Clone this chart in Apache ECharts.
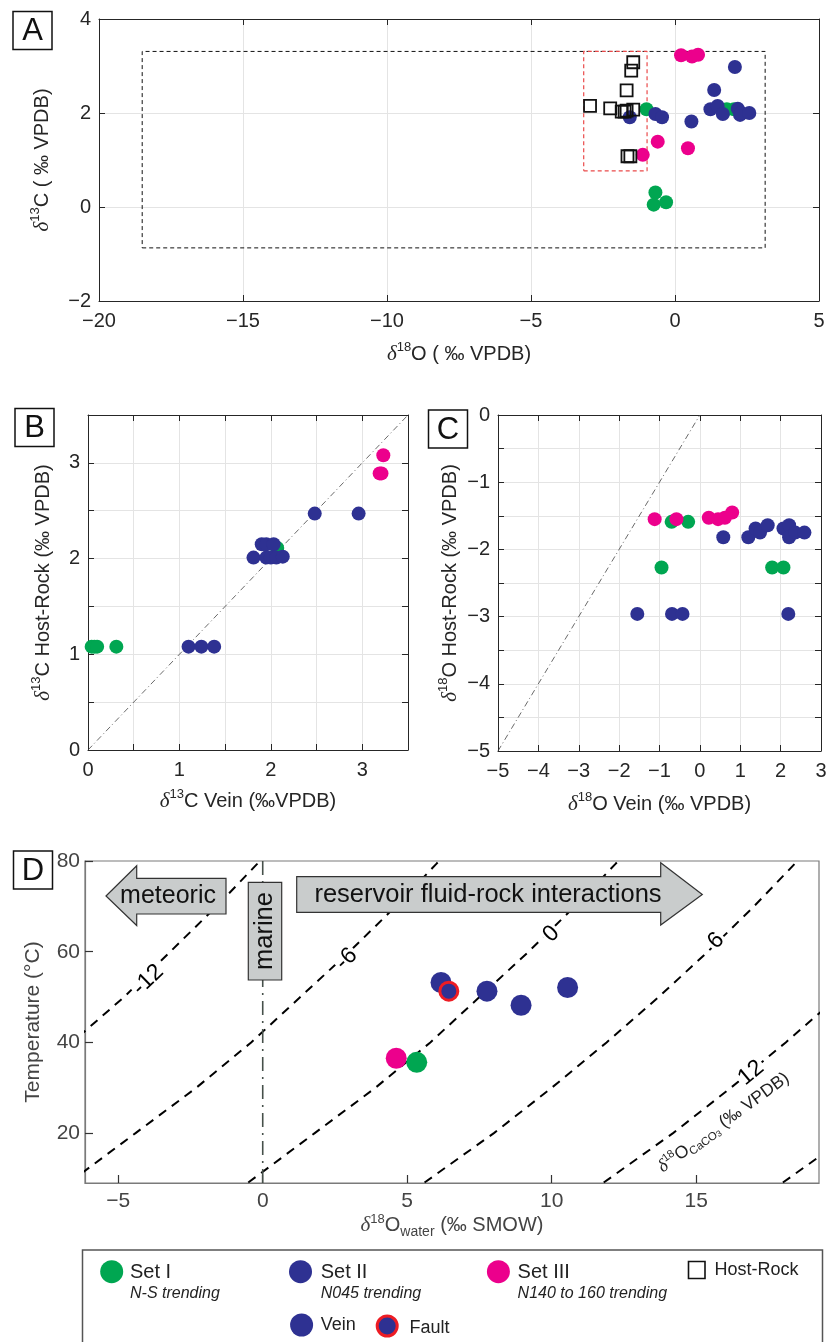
<!DOCTYPE html>
<html><head><meta charset="utf-8">
<script src="https://cdn.jsdelivr.net/npm/echarts@6.0.0/dist/echarts.min.js"></script>
<style>html,body{margin:0;padding:0;background:#fff}#c{width:830px;height:1342px}</style>
</head><body><div id="c"></div>
<script>
// ---------------- DATA ----------------
// Panel A: d18O (x) vs d13C (y), ‰ VPDB
const A_set1 = [[-0.99,2.08],[-0.68,0.31],[-0.74,0.05],[-0.31,0.10],[1.80,2.08],[2.05,2.08]];
const A_set2 = [[-1.57,1.91],[-0.68,1.98],[-0.45,1.91],[0.57,1.82],[2.08,2.98],[1.36,2.49],[1.23,2.08],[1.48,2.15],[1.66,1.98],[2.18,2.09],[2.26,1.96],[2.30,2.00],[2.58,2.00]];
const A_set3 = [[0.21,3.23],[0.59,3.20],[0.80,3.24],[-0.60,1.39],[-1.12,1.11],[0.45,1.25]];
const A_host = [[-2.95,2.15],[-2.25,2.10],[-1.85,2.03],[-1.75,2.03],[-1.68,2.05],[-1.45,2.07],[-1.68,2.48],[-1.52,2.90],[-1.45,3.08],[-1.65,1.08],[-1.55,1.08]];
const A_outerBox = [-18.5, 3.13, -0.87, 3.31];   // xmin, xmax, ymin, ymax
const A_innerBox = [-3.17, -0.97, 0.77, 3.31];

// Panel B: d13C vein (x) vs d13C host-rock (y)
const B_set1 = [[0.04,1.08],[0.07,1.08],[0.10,1.08],[0.31,1.08],[2.07,2.11]];
const B_set2 = [[1.10,1.08],[1.24,1.08],[1.38,1.08],[1.81,2.01],[1.90,2.15],[1.95,2.15],[2.03,2.15],[1.95,2.01],[2.00,2.01],[2.06,2.01],[2.13,2.02],[2.48,2.47],[2.96,2.47]];
const B_set3 = [[3.23,3.08],[3.19,2.89],[3.21,2.89]];
const B_ref = [[0,0],[3.5,3.5]];

// Panel C: d18O vein (x) vs d18O host-rock (y)
const C_set1 = [[-0.70,-1.59],[-0.29,-1.59],[-0.95,-2.27],[1.79,-2.27],[2.07,-2.27]];
const C_set2 = [[-1.55,-2.96],[-0.69,-2.96],[-0.43,-2.96],[2.19,-2.96],[0.58,-1.82],[1.20,-1.82],[1.38,-1.69],[1.49,-1.75],[1.68,-1.64],[2.07,-1.69],[2.21,-1.64],[2.21,-1.82],[2.36,-1.75],[2.59,-1.75]];
const C_set3 = [[-1.12,-1.55],[-0.58,-1.55],[0.22,-1.53],[0.45,-1.55],[0.62,-1.53],[0.80,-1.45]];
const C_ref = [[-5,-5],[0,0]];

// Panel D: d18O water (‰ SMOW) vs temperature (°C)
const D_set1 = [[5.33,35.6]];
const D_set2_vein = [[6.17,53.2],[7.76,51.3],[8.94,48.2],[10.55,52.1]];
const D_set2_fault = [[6.44,51.3]];
const D_set3 = [[4.62,36.5]];
const D_marine = [[0,9],[0,80]];
// iso-lines of d18O calcite (‰ VPDB) as [x, T]
const D_iso_m12 = [[-8.5,30],[-6.6,40],[-4.8,50],[-3.2,60],[-1.6,70],[-0.2,79.3],[-0.1,80]];
const D_iso_m6  = [[-6.7,9.1],[-4.4,20],[-2.3,30],[-0.4,40],[1.3,50],[3.0,60],[4.6,70],[6.0,79.3],[6.1,80]];
const D_iso_0   = [[-0.5,9.1],[1.8,20],[3.9,30],[5.8,40],[7.5,50],[9.2,60],[10.8,70],[12.2,79.3],[12.3,80]];
const D_iso_6   = [[5.6,9.1],[8.0,20],[10.0,30],[11.9,40],[13.7,50],[15.4,60],[17.0,70],[18.4,79.3]];
const D_iso_12  = [[11.8,9.1],[14.2,20],[16.2,30],[18.1,40],[19.9,50]];
const D_iso_18  = [[18.0,9.1],[20.4,20]];
const D_isoLabels = [['-12',-3.97,53.8,44],['-6',2.9,58.4,44],['0',9.99,63.9,45],['6',15.69,62.4,45],['12',16.9,33.3,40]];
const D_xTicks = [-5, 0, 5, 10, 15];
const D_yTicks = [20, 40, 60, 80];

// ---------------- STYLE ----------------
const FONT = 'Liberation Sans', SERIF = 'Liberation Serif';
const AX = '#262626', GC = '#e4e4e4';
const C1 = '#00a651', C2 = '#2e3192', C3 = '#ec008c';
const mfmt = v => { const r = Math.round(v * 1000) / 1000; return String(r === 0 ? 0 : r).replace('-', '\u2212'); };
const intfmt = v => Math.abs(v - Math.round(v)) < 1e-6 ? mfmt(Math.round(v)) : '';
const rich = (col) => ({
  i: {fontFamily: SERIF, fontStyle: 'italic', fontSize: 21, lineHeight: 26, color: col},
  sup: {fontFamily: FONT, fontSize: 13, verticalAlign: 'top', lineHeight: 13, color: col},
  sub: {fontFamily: FONT, fontSize: 14, verticalAlign: 'bottom', lineHeight: 14, color: col}
});
const nameStyle = (col, size) => ({fontFamily: FONT, fontSize: size || 20, color: col, lineHeight: 26, rich: rich(col)});

function mainX(gi, min, max, interval, fmt, name, gap, col) {
  col = col || AX;
  return {type: 'value', gridIndex: gi, position: 'bottom', min, max, interval,
    axisLine: {show: true, onZero: false, lineStyle: {color: col, width: 1}},
    axisTick: {show: true, inside: true, length: 6, lineStyle: {color: col}},
    axisLabel: {show: true, color: col, fontFamily: FONT, fontSize: 20, margin: 10, formatter: fmt, showMinLabel: true, showMaxLabel: true},
    splitLine: {show: true, lineStyle: {color: GC, width: 1}},
    name, nameLocation: 'middle', nameGap: gap, nameTextStyle: nameStyle(col)};
}
function mainY(gi, min, max, interval, fmt, name, gap, col) {
  col = col || AX;
  return {type: 'value', gridIndex: gi, position: 'left', min, max, interval,
    axisLine: {show: true, onZero: false, lineStyle: {color: col, width: 1}},
    axisTick: {show: true, inside: true, length: 6, lineStyle: {color: col}},
    axisLabel: {show: true, color: col, fontFamily: FONT, fontSize: 20, margin: 8, formatter: fmt, showMinLabel: true, showMaxLabel: true},
    splitLine: {show: true, lineStyle: {color: GC, width: 1}},
    name, nameLocation: 'middle', nameGap: gap, nameRotate: 90, nameTextStyle: nameStyle(col)};
}
function mirror(gi, min, max, interval, pos) {
  return {type: 'value', gridIndex: gi, position: pos, min, max, interval,
    axisLine: {show: true, onZero: false, lineStyle: {color: AX, width: 1}},
    axisTick: {show: true, inside: true, length: 6, lineStyle: {color: AX}},
    axisLabel: {show: false}, splitLine: {show: false}};
}
const boxPath = b => [[b[0],b[2]],[b[1],b[2]],[b[1],b[3]],[b[0],b[3]],[b[0],b[2]]];
const dots = (data, color, xi, size, extra) => Object.assign({type: 'scatter', xAxisIndex: xi, yAxisIndex: xi, data,
  symbol: 'circle', symbolSize: size, itemStyle: {color, opacity: 1}, silent: true, z: 4}, extra || {});
const line = (data, xi, ls, z) => ({type: 'line', xAxisIndex: xi, yAxisIndex: xi, data, symbol: 'none', showSymbol: false,
  lineStyle: ls, silent: true, clip: true, z: z || 3});

const xAxes = [
  mainX(0, -20, 5, 5, mfmt, '{i|δ}{sup|18}O ( ‰ VPDB)', 40),
  mirror(0, -20, 5, 5, 'top'),
  mainX(1, 0, 3.5, 0.5, intfmt, '{i|δ}{sup|13}C Vein (‰VPDB)', 38),
  mirror(1, 0, 3.5, 0.5, 'top'),
  mainX(2, -5, 3, 1, mfmt, '{i|δ}{sup|18}O Vein (‰ VPDB)', 40),
  mirror(2, -5, 3, 1, 'top'),
  {type: 'value', gridIndex: 3, position: 'bottom', min: -6.15, max: 19.25,
    axisLine: {show: true, onZero: false, lineStyle: {color: '#7a7a7a', width: 1.2}},
    axisTick: {show: true, inside: true, length: 8, customValues: D_xTicks, lineStyle: {color: '#333', width: 1.2}},
    axisLabel: {show: true, customValues: D_xTicks, color: '#444', fontFamily: FONT, fontSize: 21, margin: 8, formatter: mfmt},
    splitLine: {show: false},
    name: '{i|δ}{sup|18}O{sub|water} (‰ SMOW)', nameLocation: 'middle', nameGap: 28, nameTextStyle: nameStyle('#444')}
];
const yAxes = [
  mainY(0, -2, 4, 2, mfmt, '{i|δ}{sup|13}C ( ‰ VPDB)', 44),
  mirror(0, -2, 4, 2, 'right'),
  mainY(1, 0, 3.5, 0.5, intfmt, '{i|δ}{sup|13}C Host-Rock (‰ VPDB)', 32),
  mirror(1, 0, 3.5, 0.5, 'right'),
  mainY(2, -5, 0, 0.5, intfmt, '{i|δ}{sup|18}O Host-Rock (‰ VPDB)', 32),
  mirror(2, -5, 0, 0.5, 'right'),
  {type: 'value', gridIndex: 3, position: 'left', min: 9, max: 80,
    axisLine: {show: true, onZero: false, lineStyle: {color: '#7a7a7a', width: 1.2}},
    axisTick: {show: true, inside: true, length: 8, customValues: D_yTicks, lineStyle: {color: '#333', width: 1.2}},
    axisLabel: {show: true, customValues: D_yTicks, color: '#444', fontFamily: FONT, fontSize: 21, margin: 5},
    splitLine: {show: false},
    name: 'Temperature (°C)', nameLocation: 'middle', nameGap: 39, nameRotate: 90, nameTextStyle: nameStyle('#444', 21)}
];

const dash = {color: '#000', width: 2, type: [9, 7]};
const series = [
  // A
  line(boxPath(A_outerBox), 0, {color: '#111', width: 1, type: [4, 3]}),
  line(boxPath(A_innerBox), 0, {color: '#ea4a4a', width: 1.2, type: [4, 3]}),
  dots(A_set1, C1, 0, 14), dots(A_set2, C2, 0, 14), dots(A_set3, C3, 0, 14),
  dots(A_host, 'rgba(0,0,0,0)', 0, 12, {symbol: 'rect', itemStyle: {color: 'rgba(0,0,0,0)', borderColor: '#111', borderWidth: 1.8, opacity: 1}, z: 5}),
  // B
  line(B_ref, 2, {color: '#444', width: 0.8, type: [6, 3, 1, 3]}),
  dots(B_set1, C1, 2, 14), dots(B_set2, C2, 2, 14), dots(B_set3, C3, 2, 14),
  // C
  line(C_ref, 4, {color: '#444', width: 0.8, type: [6, 3, 1, 3]}),
  dots(C_set1, C1, 4, 14), dots(C_set2, C2, 4, 14), dots(C_set3, C3, 4, 14),
  // D
  line(D_iso_m12, 6, dash), line(D_iso_m6, 6, dash), line(D_iso_0, 6, dash),
  line(D_iso_6, 6, dash), line(D_iso_12, 6, dash), line(D_iso_18, 6, dash),
  line(D_marine, 6, {color: '#46504a', width: 1.6, type: [14, 6, 2, 6]}),
  {type: 'scatter', xAxisIndex: 6, yAxisIndex: 6, symbolSize: 1, itemStyle: {color: 'rgba(0,0,0,0)', opacity: 1}, silent: true, z: 6,
    data: D_isoLabels.map(l => ({value: [l[1], l[2]], label: {show: true, position: 'inside', formatter: l[0], rotate: l[3],
      fontFamily: FONT, fontSize: 23, color: '#000', opacity: 1, textBorderWidth: 0, backgroundColor: '#fff', padding: [0, 2]}}))
      .concat([{value: [15.95, 22.3], label: {show: true, position: 'inside', rotate: 36, opacity: 1, textBorderWidth: 0,
        formatter: '{i|δ}{sup|18}O{s|CaCO}{s3|3} (‰ VPDB)', fontFamily: FONT, fontSize: 17.5, color: '#222', lineHeight: 22,
        rich: {i: {fontFamily: SERIF, fontStyle: 'italic', fontSize: 18, color: '#222', lineHeight: 22},
               sup: {fontSize: 11, verticalAlign: 'top', lineHeight: 11, color: '#222'},
               s: {fontSize: 11.5, verticalAlign: 'bottom', lineHeight: 15, color: '#222'},
               s3: {fontSize: 8.5, verticalAlign: 'bottom', lineHeight: 11, color: '#222'}}}}])},
  dots(D_set3, C3, 6, 21, {z: 7}), dots(D_set1, C1, 6, 21, {z: 7}),
  dots(D_set2_vein, C2, 6, 21, {z: 7}),
  dots(D_set2_fault, C2, 6, 18, {z: 8, itemStyle: {color: C2, borderColor: '#ed1c24', borderWidth: 3, opacity: 1}})
];

// ---------------- ANNOTATIONS (panel letters, arrows, legend) ----------------
const letter = (x, y, t) => ({type: 'group', children: [
  {type: 'rect', shape: {x: x, y: y, width: 39, height: 38}, style: {fill: '#fff', stroke: '#111', lineWidth: 1.5}},
  {type: 'text', x: x + 19.5, y: y + 20, style: {text: t, fontFamily: FONT, fontSize: 31, fill: '#111', align: 'center', verticalAlign: 'middle'}}]});
const GRAY = '#c9cccc';
const graphic = [
  letter(13, 11.5, 'A'), letter(15, 408.5, 'B'), letter(428.5, 410, 'C'), letter(13.5, 851, 'D'),
  {type: 'polygon', z: 20, shape: {points: [[106, 896], [136.7, 865.7], [136.7, 878.3], [226, 878.3], [226, 914], [136.7, 914], [136.7, 925.5]]},
    style: {fill: GRAY, stroke: '#333', lineWidth: 1.2}},
  {type: 'text', z: 21, x: 168, y: 896, style: {text: 'meteoric', fontFamily: FONT, fontSize: 25, fill: '#111', align: 'center', verticalAlign: 'middle'}},
  {type: 'polygon', z: 20, shape: {points: [[296.7, 876.7], [660.7, 876.7], [660.7, 862.7], [702.3, 894.5], [660.7, 925], [660.7, 912.3], [296.7, 912.3]]},
    style: {fill: GRAY, stroke: '#333', lineWidth: 1.2}},
  {type: 'text', z: 21, x: 488, y: 894.5, style: {text: 'reservoir fluid-rock interactions', fontFamily: FONT, fontSize: 25.5, fill: '#111', align: 'center', verticalAlign: 'middle'}},
  {type: 'rect', z: 20, shape: {x: 248.3, y: 882.3, width: 33.4, height: 97.7}, style: {fill: GRAY, stroke: '#333', lineWidth: 1.2}},
  {type: 'text', z: 21, x: 265, y: 931, rotation: Math.PI / 2, style: {text: 'marine', fontFamily: FONT, fontSize: 25.5, fill: '#111', align: 'center', verticalAlign: 'middle'}},
  // legend
  {type: 'rect', z: 20, shape: {x: 82.5, y: 1250, width: 740, height: 100}, style: {fill: '#fff', stroke: '#555', lineWidth: 1.5}},
  {type: 'circle', z: 21, shape: {cx: 111.7, cy: 1271.7, r: 11.5}, style: {fill: C1}},
  {type: 'text', z: 21, x: 130, y: 1272, style: {text: 'Set I', fontFamily: FONT, fontSize: 20, fill: '#222', verticalAlign: 'middle'}},
  {type: 'text', z: 21, x: 130, y: 1294, style: {text: 'N-S trending', fontFamily: FONT, fontStyle: 'italic', fontSize: 16, fill: '#222', verticalAlign: 'middle'}},
  {type: 'circle', z: 21, shape: {cx: 300.5, cy: 1271.7, r: 11.5}, style: {fill: C2}},
  {type: 'text', z: 21, x: 320.7, y: 1272, style: {text: 'Set II', fontFamily: FONT, fontSize: 20, fill: '#222', verticalAlign: 'middle'}},
  {type: 'text', z: 21, x: 320.7, y: 1294, style: {text: 'N045 trending', fontFamily: FONT, fontStyle: 'italic', fontSize: 16, fill: '#222', verticalAlign: 'middle'}},
  {type: 'circle', z: 21, shape: {cx: 498.4, cy: 1271.7, r: 11.5}, style: {fill: C3}},
  {type: 'text', z: 21, x: 517.6, y: 1272, style: {text: 'Set III', fontFamily: FONT, fontSize: 20, fill: '#222', verticalAlign: 'middle'}},
  {type: 'text', z: 21, x: 517.6, y: 1294, style: {text: 'N140 to 160 trending', fontFamily: FONT, fontStyle: 'italic', fontSize: 16, fill: '#222', verticalAlign: 'middle'}},
  {type: 'rect', z: 21, shape: {x: 688.5, y: 1261.5, width: 16.5, height: 17}, style: {fill: '#fff', stroke: '#111', lineWidth: 1.6}},
  {type: 'text', z: 21, x: 714.5, y: 1270, style: {text: 'Host-Rock', fontFamily: FONT, fontSize: 18, fill: '#222', verticalAlign: 'middle'}},
  {type: 'circle', z: 21, shape: {cx: 301.6, cy: 1325, r: 11.5}, style: {fill: C2}},
  {type: 'text', z: 21, x: 320.7, y: 1325, style: {text: 'Vein', fontFamily: FONT, fontSize: 18, fill: '#222', verticalAlign: 'middle'}},
  {type: 'circle', z: 21, shape: {cx: 387.2, cy: 1326, r: 10}, style: {fill: C2, stroke: '#ed1c24', lineWidth: 3}},
  {type: 'text', z: 21, x: 409.6, y: 1328, style: {text: 'Fault', fontFamily: FONT, fontSize: 18, fill: '#222', verticalAlign: 'middle'}}
];

const chart = echarts.init(document.getElementById('c'), null, {renderer: 'canvas'});
chart.setOption({
  animation: false,
  backgroundColor: '#fff',
  textStyle: {fontFamily: FONT},
  grid: [
    {left: 99, top: 19, width: 720, height: 282},
    {left: 88, top: 415, width: 320, height: 335},
    {left: 498, top: 415, width: 323, height: 336},
    {left: 85, top: 861, width: 734, height: 322, show: true, borderColor: '#7a7a7a', borderWidth: 1.2}
  ],
  xAxis: xAxes,
  yAxis: yAxes,
  series: series,
  graphic: graphic
});
</script></body></html>
